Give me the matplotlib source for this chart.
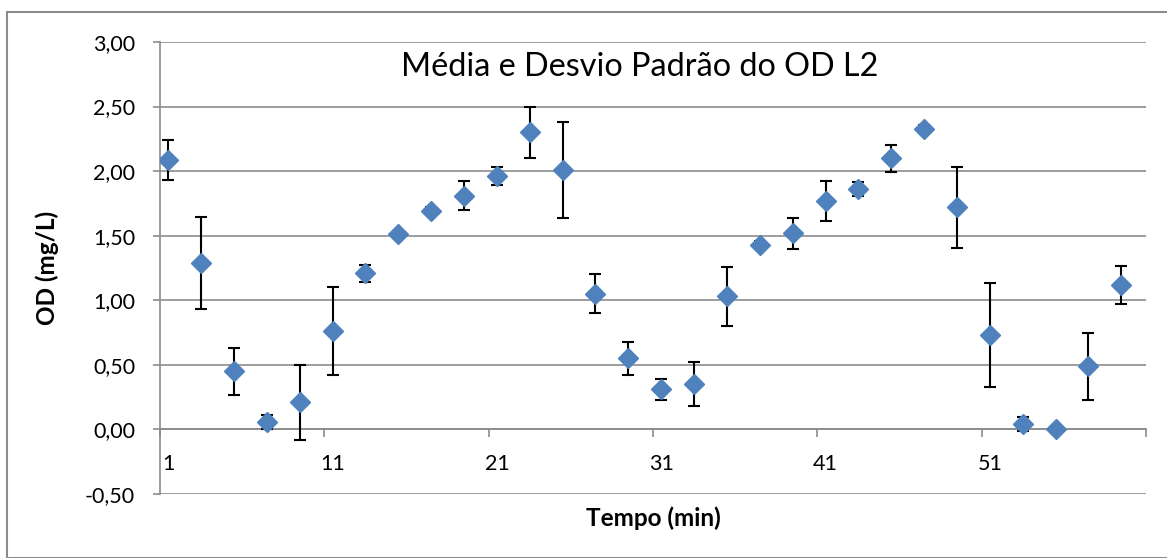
import matplotlib.pyplot as plt
import numpy as np
from matplotlib.patches import Rectangle

# tempo (min) de cada medição, média do OD e desvio padrão
tempo = [1, 3, 5, 7, 9, 11, 13, 15, 17, 19, 21, 23, 25, 27, 29,
         31, 33, 35, 37, 39, 41, 43, 45, 47, 49, 51, 53, 55, 57, 59]
od_media = [2.09, 1.29, 0.45, 0.06, 0.21, 0.76, 1.21, 1.51, 1.69, 1.81, 1.96, 2.30, 2.01, 1.05, 0.55,
            0.31, 0.35, 1.03, 1.43, 1.52, 1.77, 1.86, 2.10, 2.33, 1.72, 0.73, 0.04, 0.00, 0.49, 1.12]
od_desvio = [0.155, 0.355, 0.18, 0.055, 0.29, 0.34, 0.065, 0.03, 0.03, 0.11, 0.07, 0.195, 0.37, 0.15, 0.13,
             0.08, 0.17, 0.23, 0.03, 0.12, 0.155, 0.055, 0.105, 0.03, 0.315, 0.40, 0.055, 0.03, 0.26, 0.145]
y_ticks = [-0.5, 0.0, 0.5, 1.0, 1.5, 2.0, 2.5, 3.0]
x_labels = [1, 11, 21, 31, 41, 51]

plt.rcParams['font.family'] = ['Lato', 'DejaVu Sans']
grid_col = '#8c8c8c'

fig = plt.figure(figsize=(11.67, 5.58), dpi=100)
ax = fig.add_axes([160 / 1167, 1 - 494 / 558, (1146 - 160) / 1167, (494 - 42) / 558])

# moldura externa do gráfico
fig.patches.append(Rectangle((7 / 1167, 0), 1.2, 1 - 12 / 558, transform=fig.transFigure,
                             fill=False, edgecolor=grid_col, lw=1.5, clip_on=False))

ax.errorbar(tempo, od_media, yerr=od_desvio, fmt='D', color='#4f81bd', markersize=10,
            ecolor='black', elinewidth=1.5, capsize=4.3, capthick=1.5, zorder=3)

ax.set_xlim(0.5, 60.5)
ax.set_ylim(-0.5, 3.0)
ax.set_yticks(y_ticks)
ax.set_yticklabels([f'{v:.2f}'.replace('.', ',') for v in y_ticks], fontsize=15.5)
ax.yaxis.grid(True, color=grid_col, lw=1.2)
ax.set_axisbelow(True)
ax.tick_params(axis='y', length=5, width=1.2, color=grid_col, pad=13)

# eixo de categorias: marcas entre categorias, rótulos a cada 10
ax.spines['bottom'].set_position(('data', 0))
ax.spines['bottom'].set_color(grid_col)
ax.spines['bottom'].set_linewidth(1.2)
ax.spines['left'].set_color(grid_col)
ax.spines['left'].set_linewidth(1.2)
ax.spines['top'].set_visible(False)
ax.spines['right'].set_visible(False)
ax.set_xticks(np.arange(0.5, 61, 10))
ax.set_xticklabels([])
ax.tick_params(axis='x', which='major', length=6, width=1.2, color=grid_col, direction='out')
ax.set_xticks(x_labels, minor=True)
ax.set_xticklabels([str(v) for v in x_labels], minor=True, fontsize=15.5)
ax.tick_params(axis='x', which='minor', length=0, pad=18)

ax.set_ylabel('OD (mg/L)', fontsize=17.5, fontweight='bold')
ax.yaxis.set_label_coords(-0.1024, 0.5)
fig.text(653 / 1167, 1 - 518 / 558, 'Tempo (min)', fontsize=17.5, fontweight='bold',
         ha='center', va='center')
fig.text(640 / 1167, 1 - 67 / 558, 'Média e Desvio Padrão do OD L2', fontsize=23.3,
         ha='center', va='center')

fig.savefig('out.png', dpi=100)
